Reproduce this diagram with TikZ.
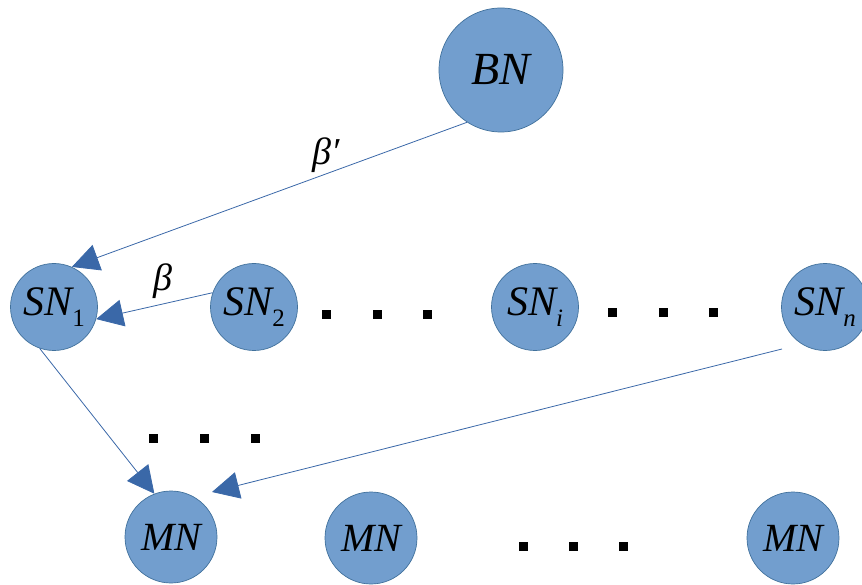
\documentclass[tikz,border=0pt]{standalone}
\usepackage{fontspec}
\setmainfont{Liberation Serif}[ItalicFont={Liberation Serif Italic}]
\usetikzlibrary{arrows.meta}
\definecolor{nodefill}{RGB}{114,158,206}
\definecolor{nodedraw}{RGB}{65,113,156}
\definecolor{linkblue}{RGB}{58,104,168}
\newcommand{\nlabel}[2]{\itshape #1\raisebox{-0.25em}{\fontsize{25}{25}\selectfont #2}}
\tikzset{
  netnode/.style={circle, fill=nodefill, draw=nodedraw, line width=0.7pt, inner sep=0pt,
    font=\fontsize{42}{42}\selectfont},
  link/.style={draw=linkblue, line width=0.8pt, -{Triangle[length=27pt,width=27pt]}},
  dotsq/.style={rectangle, fill=black, inner sep=0pt, minimum size=9pt},
  glabel/.style={font=\fontsize{38}{38}\selectfont\itshape, inner sep=0pt}
}
\begin{document}
\begin{tikzpicture}[x=1pt,y=-1pt]
\useasboundingbox (0,0) rectangle (862,585);
\node[netnode, minimum size=124pt, font=\fontsize{46}{46}\selectfont] (bn) at (501,70) {\itshape BN};
\node[netnode, minimum size=87pt] (sn1) at (54,307) {\nlabel{SN}{\upshape 1}};
\node[netnode, minimum size=87pt] (sn2) at (254,307) {\nlabel{SN}{\upshape 2}};
\node[netnode, minimum size=87pt] (sni) at (535,307) {\nlabel{SN}{i}};
\node[netnode, minimum size=87pt] (snn) at (825,307) {\nlabel{SN}{n}};
\node[netnode, minimum size=92pt, font=\fontsize{40}{40}\selectfont] (mn1) at (171,537) {\itshape MN};
\node[netnode, minimum size=92pt, font=\fontsize{40}{40}\selectfont] (mn2) at (371,538) {\itshape MN};
\node[netnode, minimum size=92pt, font=\fontsize{40}{40}\selectfont] (mn3) at (793,538) {\itshape MN};

\node[dotsq] (d1) at (326,315) {};
\node[dotsq] (d2) at (377,315) {};
\node[dotsq] (d3) at (427,315) {};
\node[dotsq] (d4) at (612,313) {};
\node[dotsq] (d5) at (663,313) {};
\node[dotsq] (d6) at (713,313) {};
\node[dotsq] (d7) at (153,438) {};
\node[dotsq] (d8) at (204,438) {};
\node[dotsq] (d9) at (255,438) {};
\node[dotsq] (d10) at (523,546) {};
\node[dotsq] (d11) at (573,546) {};
\node[dotsq] (d12) at (623,546) {};

\node[glabel] (betap) at (326,155) {β′};
\node[glabel] (beta) at (163,281) {β};

\coordinate (snnfoot) at (782,349);
\coordinate (mntip) at (212,492);

\draw[link] (bn.237.6) -- (sn1.66.8);
\draw[link] (sn2.161) -- (sn1.344);
\draw[link] (sn1.251.6) -- (mn1.111.8);
\draw[link] (snnfoot) -- (mntip);
\end{tikzpicture}
\end{document}
